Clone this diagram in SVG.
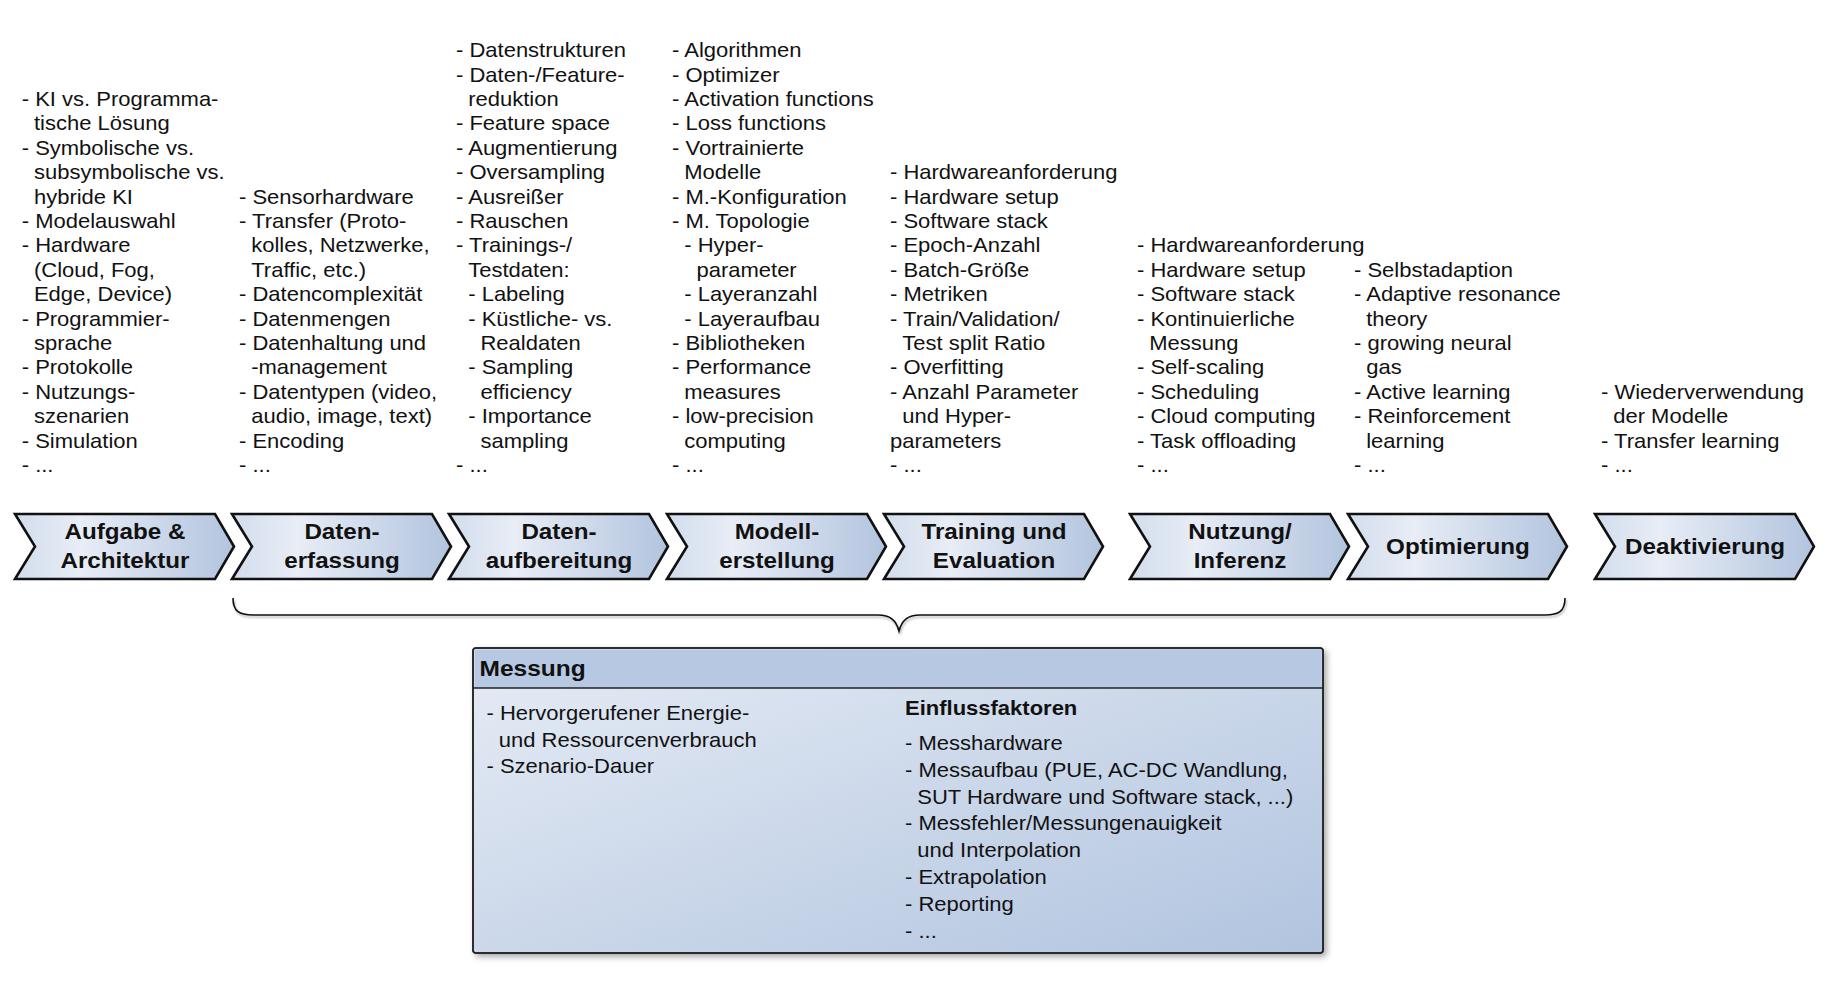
<svg xmlns="http://www.w3.org/2000/svg" width="1827" height="994" viewBox="0 0 1827 994">
  <defs>
    <style>
      .t { font-family: "Liberation Sans", Arial, sans-serif; font-size: 20px; fill: #111; }
      .b { font-weight: bold; }
      .lbl { font-family: "Liberation Sans", Arial, sans-serif; font-size: 22px; font-weight: bold; fill: #111; text-anchor: middle; }
      .chev { fill: url(#chevFill); stroke: #111; stroke-width: 2.6; stroke-linejoin: miter; }
      .brace { fill: none; stroke: #111; stroke-width: 1.6; }
    </style>
    <linearGradient id="chevFill" x1="0" y1="0" x2="1" y2="0">
      <stop offset="0" stop-color="#d2ddec"/>
      <stop offset="0.3" stop-color="#e8edf6"/>
      <stop offset="1" stop-color="#b2c4de"/>
    </linearGradient>
    <linearGradient id="boxFill" x1="0" y1="0" x2="1" y2="1">
      <stop offset="0" stop-color="#e6ecf5"/>
      <stop offset="1" stop-color="#b1c4df"/>
    </linearGradient>
    <filter id="shadow" x="-5%" y="-5%" width="112%" height="115%">
      <feDropShadow dx="3" dy="3" stdDeviation="3" flood-color="#000" flood-opacity="0.35"/>
    </filter>
    <filter id="lineShadow" x="-2%" y="-50%" width="104%" height="200%">
      <feDropShadow dx="1" dy="2" stdDeviation="1.2" flood-color="#000" flood-opacity="0.3"/>
    </filter>
    <polygon id="chev" class="chev" points="0,514 200,514 219,546.5 200,579 0,579 20,546.5"/>
  </defs>

  <rect width="1827" height="994" fill="#fff"/>

  <!-- Phase chevrons -->
  <g id="phase-aufgabe">
    <use href="#chev" x="15"/>
    <g transform="translate(125,0) scale(1.1,1)">
      <text class="lbl"><tspan x="0" y="539.5">Aufgabe &amp;</tspan><tspan x="0" y="568">Architektur</tspan></text>
    </g>
  </g>
  <g id="phase-datenerfassung">
    <use href="#chev" x="232"/>
    <g transform="translate(342,0) scale(1.1,1)">
      <text class="lbl"><tspan x="0" y="539.5">Daten-</tspan><tspan x="0" y="568">erfassung</tspan></text>
    </g>
  </g>
  <g id="phase-datenaufbereitung">
    <use href="#chev" x="449"/>
    <g transform="translate(559,0) scale(1.1,1)">
      <text class="lbl"><tspan x="0" y="539.5">Daten-</tspan><tspan x="0" y="568">aufbereitung</tspan></text>
    </g>
  </g>
  <g id="phase-modellerstellung">
    <use href="#chev" x="667"/>
    <g transform="translate(777,0) scale(1.1,1)">
      <text class="lbl"><tspan x="0" y="539.5">Modell-</tspan><tspan x="0" y="568">erstellung</tspan></text>
    </g>
  </g>
  <g id="phase-training">
    <use href="#chev" x="884"/>
    <g transform="translate(994,0) scale(1.1,1)">
      <text class="lbl"><tspan x="0" y="539.5">Training und</tspan><tspan x="0" y="568">Evaluation</tspan></text>
    </g>
  </g>
  <g id="phase-nutzung">
    <use href="#chev" x="1130"/>
    <g transform="translate(1240,0) scale(1.1,1)">
      <text class="lbl"><tspan x="0" y="539.5">Nutzung/</tspan><tspan x="0" y="568">Inferenz</tspan></text>
    </g>
  </g>
  <g id="phase-optimierung">
    <use href="#chev" x="1348"/>
    <g transform="translate(1458,0) scale(1.1,1)">
      <text class="lbl" x="0" y="554">Optimierung</text>
    </g>
  </g>
  <g id="phase-deaktivierung">
    <use href="#chev" x="1595"/>
    <g transform="translate(1705,0) scale(1.1,1)">
      <text class="lbl" x="0" y="554">Deaktivierung</text>
    </g>
  </g>

  <!-- Topic lists above each phase -->
  <g id="list-aufgabe" transform="translate(21.7,0) scale(1.1,1)">
    <text class="t">
      <tspan x="0" y="106">- KI vs. Programma-</tspan>
      <tspan x="11.12" y="130.4">tische Lösung</tspan>
      <tspan x="0" y="154.8">- Symbolische vs.</tspan>
      <tspan x="11.12" y="179.2">subsymbolische vs.</tspan>
      <tspan x="11.12" y="203.6">hybride KI</tspan>
      <tspan x="0" y="228">- Modelauswahl</tspan>
      <tspan x="0" y="252.4">- Hardware</tspan>
      <tspan x="11.12" y="276.8">(Cloud, Fog,</tspan>
      <tspan x="11.12" y="301.2">Edge, Device)</tspan>
      <tspan x="0" y="325.6">- Programmier-</tspan>
      <tspan x="11.12" y="350">sprache</tspan>
      <tspan x="0" y="374.4">- Protokolle</tspan>
      <tspan x="0" y="398.8">- Nutzungs-</tspan>
      <tspan x="11.12" y="423.2">szenarien</tspan>
      <tspan x="0" y="447.6">- Simulation</tspan>
      <tspan x="0" y="472">- ...</tspan>
    </text>
  </g>

  <g id="list-datenerfassung" transform="translate(239,0) scale(1.1,1)">
    <text class="t">
      <tspan x="0" y="203.6">- Sensorhardware</tspan>
      <tspan x="0" y="228">- Transfer (Proto-</tspan>
      <tspan x="11.12" y="252.4">kolles, Netzwerke,</tspan>
      <tspan x="11.12" y="276.8">Traffic, etc.)</tspan>
      <tspan x="0" y="301.2">- Datencomplexität</tspan>
      <tspan x="0" y="325.6">- Datenmengen</tspan>
      <tspan x="0" y="350">- Datenhaltung und</tspan>
      <tspan x="11.12" y="374.4">-management</tspan>
      <tspan x="0" y="398.8">- Datentypen (video,</tspan>
      <tspan x="11.12" y="423.2">audio, image, text)</tspan>
      <tspan x="0" y="447.6">- Encoding</tspan>
      <tspan x="0" y="472">- ...</tspan>
    </text>
  </g>

  <g id="list-datenaufbereitung" transform="translate(456,0) scale(1.1,1)">
    <text class="t">
      <tspan x="0" y="57.2">- Datenstrukturen</tspan>
      <tspan x="0" y="81.6">- Daten-/Feature-</tspan>
      <tspan x="11.12" y="106">reduktion</tspan>
      <tspan x="0" y="130.4">- Feature space</tspan>
      <tspan x="0" y="154.8">- Augmentierung</tspan>
      <tspan x="0" y="179.2">- Oversampling</tspan>
      <tspan x="0" y="203.6">- Ausreißer</tspan>
      <tspan x="0" y="228">- Rauschen</tspan>
      <tspan x="0" y="252.4">- Trainings-/</tspan>
      <tspan x="11.12" y="276.8">Testdaten:</tspan>
      <tspan x="11.12" y="301.2">- Labeling</tspan>
      <tspan x="11.12" y="325.6">- Küstliche- vs.</tspan>
      <tspan x="22.24" y="350">Realdaten</tspan>
      <tspan x="11.12" y="374.4">- Sampling</tspan>
      <tspan x="22.24" y="398.8">efficiency</tspan>
      <tspan x="11.12" y="423.2">- Importance</tspan>
      <tspan x="22.24" y="447.6">sampling</tspan>
      <tspan x="0" y="472">- ...</tspan>
    </text>
  </g>

  <g id="list-modellerstellung" transform="translate(672,0) scale(1.1,1)">
    <text class="t">
      <tspan x="0" y="57.2">- Algorithmen</tspan>
      <tspan x="0" y="81.6">- Optimizer</tspan>
      <tspan x="0" y="106">- Activation functions</tspan>
      <tspan x="0" y="130.4">- Loss functions</tspan>
      <tspan x="0" y="154.8">- Vortrainierte</tspan>
      <tspan x="11.12" y="179.2">Modelle</tspan>
      <tspan x="0" y="203.6">- M.-Konfiguration</tspan>
      <tspan x="0" y="228">- M. Topologie</tspan>
      <tspan x="11.12" y="252.4">- Hyper-</tspan>
      <tspan x="22.24" y="276.8">parameter</tspan>
      <tspan x="11.12" y="301.2">- Layeranzahl</tspan>
      <tspan x="11.12" y="325.6">- Layeraufbau</tspan>
      <tspan x="0" y="350">- Bibliotheken</tspan>
      <tspan x="0" y="374.4">- Performance</tspan>
      <tspan x="11.12" y="398.8">measures</tspan>
      <tspan x="0" y="423.2">- low-precision</tspan>
      <tspan x="11.12" y="447.6">computing</tspan>
      <tspan x="0" y="472">- ...</tspan>
    </text>
  </g>

  <g id="list-training" transform="translate(890,0) scale(1.1,1)">
    <text class="t">
      <tspan x="0" y="179.2">- Hardwareanforderung</tspan>
      <tspan x="0" y="203.6">- Hardware setup</tspan>
      <tspan x="0" y="228">- Software stack</tspan>
      <tspan x="0" y="252.4">- Epoch-Anzahl</tspan>
      <tspan x="0" y="276.8">- Batch-Größe</tspan>
      <tspan x="0" y="301.2">- Metriken</tspan>
      <tspan x="0" y="325.6">- Train/Validation/</tspan>
      <tspan x="11.12" y="350">Test split Ratio</tspan>
      <tspan x="0" y="374.4">- Overfitting</tspan>
      <tspan x="0" y="398.8">- Anzahl Parameter</tspan>
      <tspan x="11.12" y="423.2">und Hyper-</tspan>
      <tspan x="0" y="447.6">parameters</tspan>
      <tspan x="0" y="472">- ...</tspan>
    </text>
  </g>

  <g id="list-nutzung" transform="translate(1137,0) scale(1.1,1)">
    <text class="t">
      <tspan x="0" y="252.4">- Hardwareanforderung</tspan>
      <tspan x="0" y="276.8">- Hardware setup</tspan>
      <tspan x="0" y="301.2">- Software stack</tspan>
      <tspan x="0" y="325.6">- Kontinuierliche</tspan>
      <tspan x="11.12" y="350">Messung</tspan>
      <tspan x="0" y="374.4">- Self-scaling</tspan>
      <tspan x="0" y="398.8">- Scheduling</tspan>
      <tspan x="0" y="423.2">- Cloud computing</tspan>
      <tspan x="0" y="447.6">- Task offloading</tspan>
      <tspan x="0" y="472">- ...</tspan>
    </text>
  </g>

  <g id="list-optimierung" transform="translate(1354,0) scale(1.1,1)">
    <text class="t">
      <tspan x="0" y="276.8">- Selbstadaption</tspan>
      <tspan x="0" y="301.2">- Adaptive resonance</tspan>
      <tspan x="11.12" y="325.6">theory</tspan>
      <tspan x="0" y="350">- growing neural</tspan>
      <tspan x="11.12" y="374.4">gas</tspan>
      <tspan x="0" y="398.8">- Active learning</tspan>
      <tspan x="0" y="423.2">- Reinforcement</tspan>
      <tspan x="11.12" y="447.6">learning</tspan>
      <tspan x="0" y="472">- ...</tspan>
    </text>
  </g>

  <g id="list-deaktivierung" transform="translate(1601,0) scale(1.1,1)">
    <text class="t">
      <tspan x="0" y="398.8">- Wiederverwendung</tspan>
      <tspan x="11.12" y="423.2">der Modelle</tspan>
      <tspan x="0" y="447.6">- Transfer learning</tspan>
      <tspan x="0" y="472">- ...</tspan>
    </text>
  </g>

  <!-- Brace spanning the measured phases -->
  <g id="connectors">
    <path class="brace" filter="url(#lineShadow)" d="M233,598 C233,611 239,615 253,615 L878,615 C890,615 896,620 899,631 C902,620 908,615 920,615 L1545,615 C1559,615 1565,611 1565,598"/>
  </g>

  <!-- Measurement box -->
  <g id="messung">
    <g filter="url(#shadow)">
      <rect x="473" y="648" width="850" height="305" rx="3" ry="3" fill="url(#boxFill)" stroke="#222" stroke-width="1.5"/>
    </g>
    <path d="M474.5,688 L474.5,651 Q474.5,649.5 476,649.5 L1320,649.5 Q1321.5,649.5 1321.5,651 L1321.5,688 Z" fill="#b7c9e2"/>
    <line x1="473" y1="688" x2="1323" y2="688" stroke="#222" stroke-width="1.5"/>
    <rect x="473" y="648" width="850" height="305" rx="3" ry="3" fill="none" stroke="#222" stroke-width="1.5"/>
    <g transform="translate(479.5,0) scale(1.1,1)">
      <text class="t b" style="font-size:22.3px" x="0" y="676">Messung</text>
    </g>
    <g transform="translate(486.5,0) scale(1.1,1)">
      <text class="t">
        <tspan x="0" y="720">- Hervorgerufener Energie-</tspan>
        <tspan x="11.12" y="746.7">und Ressourcenverbrauch</tspan>
        <tspan x="0" y="773.4">- Szenario-Dauer</tspan>
      </text>
    </g>
    <g transform="translate(905,0) scale(1.1,1)">
      <text class="t b" x="0" y="715">Einflussfaktoren</text>
      <text class="t">
        <tspan x="0" y="750">- Messhardware</tspan>
        <tspan x="0" y="776.8">- Messaufbau (PUE, AC-DC Wandlung,</tspan>
        <tspan x="11.12" y="803.6">SUT Hardware und Software stack, ...)</tspan>
        <tspan x="0" y="830.4">- Messfehler/Messungenauigkeit</tspan>
        <tspan x="11.12" y="857.2">und Interpolation</tspan>
        <tspan x="0" y="884">- Extrapolation</tspan>
        <tspan x="0" y="910.8">- Reporting</tspan>
        <tspan x="0" y="937.6">- ...</tspan>
      </text>
    </g>
  </g>
</svg>
